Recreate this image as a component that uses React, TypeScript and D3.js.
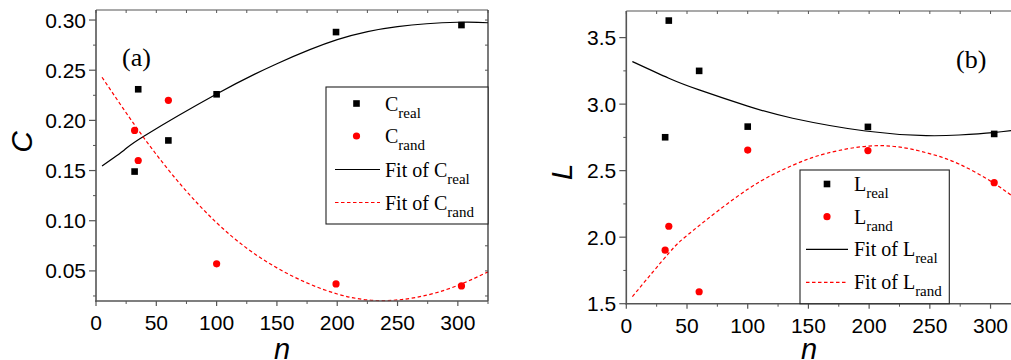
import React from "react";
import * as d3 from "d3";

// ---- data ----
const nPoints = [32, 35, 60, 100, 199, 303];
const cReal = [0.149, 0.231, 0.18, 0.226, 0.288, 0.295];
const cRand = [0.19, 0.16, 0.22, 0.057, 0.037, 0.035];
const lReal = [2.751, 3.628, 3.25, 2.831, 2.829, 2.776];
const lRand = [1.902, 2.082, 1.59, 2.655, 2.651, 2.41];

const fitCRealN = [5, 23.5, 40, 100, 150, 200, 250, 300, 325];
const fitCRealV = [0.1546, 0.1705, 0.1845, 0.2263, 0.2565, 0.2805, 0.2935, 0.2978, 0.2973];
const fitCRandN = [5, 50, 100, 150, 200, 240, 275, 303, 325];
const fitCRandV = [0.243, 0.166, 0.098, 0.053, 0.027, 0.0204, 0.026, 0.037, 0.049];
const fitLRealN = [5, 35, 60, 100, 137, 197, 247, 274, 302, 325];
const fitLRealV = [3.32, 3.195, 3.107, 2.985, 2.894, 2.798, 2.763, 2.768, 2.786, 2.81];
const fitLRandN = [5, 35, 55, 100, 137, 165, 208, 247, 274, 302, 325];
const fitLRandV = [1.553, 1.88, 2.05, 2.36, 2.54, 2.63, 2.688, 2.635, 2.55, 2.41, 2.26];

const xTicks = [0, 50, 100, 150, 200, 250, 300];
const xMinor = [25, 75, 125, 175, 225, 275, 325];
const cTicks = [0.05, 0.1, 0.15, 0.2, 0.25, 0.3];
const cMinor = [0.025, 0.075, 0.125, 0.175, 0.225, 0.275];
const lTicks = [1.5, 2.0, 2.5, 3.0, 3.5];
const lMinor = [1.75, 2.25, 2.75, 3.25];

const SANS = "'Liberation Sans', Arial, sans-serif";
const SERIF = "'Liberation Serif', 'Times New Roman', serif";
const AXIS = "#555";

type PanelProps = {
  x0: number; x1: number; yTop: number; yBot: number;
  yDomain: [number, number];
  yTicks: number[]; yMinor: number[]; yFmt: (v: number) => string;
  real: number[]; rand: number[];
  fitRealN: number[]; fitRealV: number[]; fitRandN: number[]; fitRandV: number[];
  sym: string; tag: string; tagX: number; tagY: number;
  yLabelX: number; yLabelY: number; nLabelX: number;
  legend: { x0: number; x1: number; y0: number; y1: number; rows: number[]; mx: number; lx0: number; lx1: number; tx: number };
};

function Panel(p: PanelProps) {
  const x = d3.scaleLinear().domain([0, 325]).range([p.x0, p.x1]);
  const y = d3.scaleLinear().domain(p.yDomain).range([p.yBot, p.yTop]);
  const line = d3.line<[number, number]>().x((d) => x(d[0])).y((d) => y(d[1])).curve(d3.curveNatural);
  const realPath = line(p.fitRealN.map((n, i) => [n, p.fitRealV[i]]) as [number, number][]) || "";
  const randPath = line(p.fitRandN.map((n, i) => [n, p.fitRandV[i]]) as [number, number][]) || "";
  const L = p.legend;
  const label = (main: string, sub: string, tx: number, ty: number, pre = "") => (
    <text x={tx} y={ty} fontFamily={SERIF} fontSize={20} fill="#000">
      {pre}{main}
      <tspan fontSize={15} dy={7}>{sub}</tspan>
    </text>
  );
  return (
    <g>
      {/* fits */}
      <path d={realPath} fill="none" stroke="#000" strokeWidth={1.2} />
      <path d={randPath} fill="none" stroke="#ff0000" strokeWidth={1.2} strokeDasharray="3.5,2.5" />
      {/* points */}
      {nPoints.map((n, i) => (
        <rect key={"r" + i} x={x(n) - 3.3} y={y(p.real[i]) - 3.3} width={6.6} height={6.6} fill="#000" />
      ))}
      {nPoints.map((n, i) => (
        <circle key={"c" + i} cx={x(n)} cy={y(p.rand[i])} r={3.6} fill="#ff0000" />
      ))}
      {/* frame */}
      <line x1={p.x0} x2={p.x1} y1={p.yTop} y2={p.yTop} stroke={AXIS} strokeWidth={1.2} />
      <line x1={p.x1} x2={p.x1} y1={p.yTop} y2={p.yBot} stroke="#222" strokeWidth={1.2} />
      <line x1={p.x0} x2={p.x0} y1={p.yTop} y2={p.yBot + 0.8} stroke={AXIS} strokeWidth={1.6} />
      <line x1={p.x0 - 0.8} x2={p.x1} y1={p.yBot} y2={p.yBot} stroke={AXIS} strokeWidth={1.6} />
      {/* x ticks */}
      {xTicks.map((t) => (
        <g key={"xt" + t}>
          <line x1={x(t)} x2={x(t)} y1={p.yBot} y2={p.yBot + 5} stroke={AXIS} strokeWidth={1.2} />
          <line x1={x(t)} x2={x(t)} y1={p.yTop} y2={p.yTop + 3} stroke={AXIS} strokeWidth={1} />
          <text x={x(t)} y={p.yBot + 29} textAnchor="middle" fontFamily={SANS} fontSize={21} fill="#000">{t}</text>
        </g>
      ))}
      {xMinor.map((t) => (
        <g key={"xm" + t}>
          <line x1={x(t)} x2={x(t)} y1={p.yBot} y2={p.yBot + 3} stroke={AXIS} strokeWidth={1} />
          <line x1={x(t)} x2={x(t)} y1={p.yTop} y2={p.yTop + 3} stroke={AXIS} strokeWidth={1} />
        </g>
      ))}
      {/* y ticks */}
      {p.yTicks.map((t) => (
        <g key={"yt" + t}>
          <line x1={p.x0 - 7} x2={p.x0} y1={y(t)} y2={y(t)} stroke={AXIS} strokeWidth={1.2} />
          <line x1={p.x1} x2={p.x1 - 3} y1={y(t)} y2={y(t)} stroke={AXIS} strokeWidth={1} />
          <text x={p.x0 - 10} y={y(t)} dy="0.36em" textAnchor="end" fontFamily={SANS} fontSize={21} fill="#000">{p.yFmt(t)}</text>
        </g>
      ))}
      {p.yMinor.map((t) => (
        <g key={"ym" + t}>
          <line x1={p.x0 - 3} x2={p.x0} y1={y(t)} y2={y(t)} stroke={AXIS} strokeWidth={1} />
          <line x1={p.x1} x2={p.x1 - 3} y1={y(t)} y2={y(t)} stroke={AXIS} strokeWidth={1} />
        </g>
      ))}
      {/* axis titles */}
      <text transform={`translate(${p.yLabelX},${p.yLabelY}) rotate(-90)`} textAnchor="middle" fontFamily={SANS} fontStyle="italic" fontSize={30} fill="#000">{p.sym}</text>
      <text x={p.nLabelX} y={359} textAnchor="middle" fontFamily={SANS} fontStyle="italic" fontSize={29} fill="#000">n</text>
      {/* panel tag */}
      <text x={p.tagX} y={p.tagY} fontFamily={SERIF} fontSize={26} fill="#000">{p.tag}</text>
      {/* legend */}
      <rect x={L.x0} y={L.y0} width={L.x1 - L.x0} height={L.y1 - L.y0} fill="#fff" stroke="#222" strokeWidth={1.1} />
      <rect x={L.mx - 3.3} y={L.rows[0] - 3.3} width={6.6} height={6.6} fill="#000" />
      {label(p.sym, "real", L.tx, L.rows[0] + 7)}
      <circle cx={L.mx} cy={L.rows[1]} r={3.6} fill="#ff0000" />
      {label(p.sym, "rand", L.tx, L.rows[1] + 7)}
      <line x1={L.lx0} x2={L.lx1} y1={L.rows[2]} y2={L.rows[2]} stroke="#000" strokeWidth={1.2} />
      {label(p.sym, "real", L.tx, L.rows[2] + 7, "Fit of ")}
      <line x1={L.lx0} x2={L.lx1} y1={L.rows[3]} y2={L.rows[3]} stroke="#ff0000" strokeWidth={1.2} strokeDasharray="3.5,2.5" />
      {label(p.sym, "rand", L.tx, L.rows[3] + 7, "Fit of ")}
    </g>
  );
}

export default function App() {
  return (
    <svg width={1011} height={360} style={{ position: "absolute", left: 0, top: 0, background: "#fff" }}>
      <rect x={0} y={0} width={1011} height={360} fill="#fff" />
      <Panel
        x0={96} x1={488} yTop={10} yBot={301}
        yDomain={[0.02, 0.31]} yTicks={cTicks} yMinor={cMinor} yFmt={(v) => v.toFixed(2)}
        real={cReal} rand={cRand}
        fitRealN={fitCRealN} fitRealV={fitCRealV} fitRandN={fitCRandN} fitRandV={fitCRandV}
        sym="C" tag="(a)" tagX={122} tagY={66}
        yLabelX={32} yLabelY={142} nLabelX={282}
        legend={{ x0: 326, x1: 488, y0: 87, y1: 224, rows: [103.5, 136, 169.5, 202.5], mx: 356.5, lx0: 335, lx1: 380, tx: 385 }}
      />
      <Panel
        x0={626.3} x1={1020.9} yTop={11} yBot={303.7}
        yDomain={[1.5, 3.7]} yTicks={lTicks} yMinor={lMinor} yFmt={(v) => v.toFixed(1)}
        real={lReal} rand={lRand}
        fitRealN={fitLRealN} fitRealV={fitLRealV} fitRandN={fitLRandN} fitRandV={fitLRandV}
        sym="L" tag="(b)" tagX={956} tagY={68}
        yLabelX={572} yLabelY={172} nLabelX={809}
        legend={{ x0: 800, x1: 949.3, y0: 170, y1: 303.7, rows: [184, 216.7, 249.3, 282.3], mx: 827, lx0: 806, lx1: 848, tx: 854 }}
      />
    </svg>
  );
}
